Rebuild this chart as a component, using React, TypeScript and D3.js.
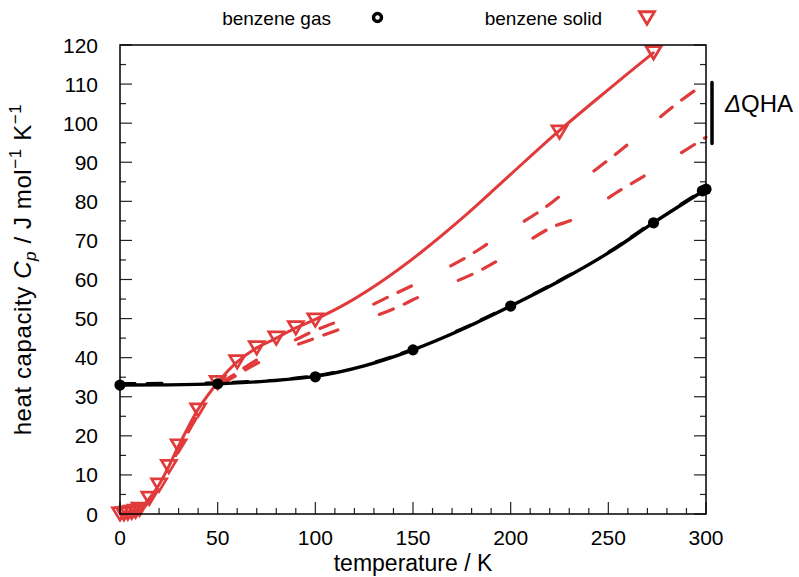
import React from "react";
import * as d3 from "d3";

// Benzene gas: line readings and marker points (T in K, Cp in J/mol/K)
const gasLineT = [0, 25, 50, 75, 100, 125, 150, 175, 200, 225, 250, 273, 300];
const gasLineCp = [33.0, 33.05, 33.3, 34.0, 35.2, 37.9, 42.0, 47.2, 53.2, 59.6, 66.8, 74.5, 83.1];
const gasDashCp = [33.4, 33.45, 33.6, 34.2, 35.4, 38.1, 42.2, 47.4, 53.4, 59.8, 67.0, 74.7, 83.3];
const gasMarkT = [0, 50, 100, 150, 200, 273.15, 298.15, 300];
const gasMarkCp = [33.0, 33.3, 35.1, 42.0, 53.2, 74.5, 82.7, 83.1];

// Benzene solid: full curve and markers
const solidLineT = [0, 5, 10, 15, 20, 25, 30, 40, 50, 60, 70, 80, 90, 100, 116, 135, 154, 178, 200, 224, 250, 273];
const solidLineCp = [0, 0.3, 1.2, 4.0, 7.5, 12.2, 17.4, 26.8, 33.6, 38.9, 42.5, 45.0, 47.6, 49.8, 53.9, 59.9, 66.9, 76.9, 86.9, 97.7, 108.6, 118.0];
const solidMarkT = [0, 2, 4, 6, 8, 10, 15, 20, 25, 30, 40, 50, 60, 70, 80, 90, 100, 225, 273.15];
const solidMarkCp = [0, 0.05, 0.2, 0.4, 0.7, 1.2, 4.0, 7.4, 12.1, 17.4, 26.6, 33.6, 38.9, 42.5, 45.0, 47.6, 49.6, 97.7, 118.0];

// Quasi-harmonic variants (dashed)
const qhaUpperT = [0, 10, 20, 30, 40, 50, 60, 70, 80, 90, 100, 112, 138, 151, 177, 190, 215, 226, 249, 261, 283, 300];
const qhaUpperCp = [0, 1.0, 7.0, 16.5, 25.5, 32.6, 36.2, 39.4, 42.1, 44.6, 47.0, 49.4, 55.7, 58.8, 65.6, 69.7, 77.5, 81.6, 90.2, 95.0, 104.2, 110.4];
const qhaLowerT = [0, 10, 20, 30, 40, 50, 60, 70, 80, 90, 100, 141, 155, 181, 194, 220, 233, 257, 270, 300];
const qhaLowerCp = [0, 1.0, 7.0, 16.5, 25.3, 32.2, 35.6, 38.5, 41.0, 43.2, 45.0, 52.7, 56.0, 61.5, 65.0, 73.1, 75.6, 83.1, 87.0, 96.4];

const qhaRange = [94.8, 110.4];

const xTicks = [0, 50, 100, 150, 200, 250, 300];
const yTicks = [0, 10, 20, 30, 40, 50, 60, 70, 80, 90, 100, 110, 120];

const RED = "#e13a3b";
const FONT = "'Liberation Sans', Arial, Helvetica, sans-serif";

export default function App() {
  const x = d3.scaleLinear().domain([0, 300]).range([120, 706]);
  const y = d3.scaleLinear().domain([0, 120]).range([514, 45]);

  const line = (ts: number[], vs: number[], curve: d3.CurveFactory = d3.curveCatmullRom) =>
    d3
      .line<number>()
      .x((_, i) => x(ts[i]))
      .y((_, i) => y(vs[i]))
      .curve(curve)(ts) as string;

  const tri = (cx: number, cy: number, w = 15, h = 12.5) =>
    `M${cx - w / 2},${cy - h / 2}L${cx + w / 2},${cy - h / 2}L${cx},${cy + h / 2}Z`;

  const xMinor = d3.range(0, 301, 10);
  const yMinor = d3.range(0, 121, 5);
  const [x0, x1] = x.range();
  const [y0, y1] = y.range();

  const dash = "15,12,15,44";

  return (
    <svg
      width={799}
      height={577}
      style={{ position: "absolute", left: 0, top: 0, background: "#fff" }}
      fontFamily={FONT}
    >
      <defs>
        <clipPath id="plotArea">
          <rect x={x0} y={y1 - 10} width={x1 - x0 + 10} height={y0 - y1 + 20} />
        </clipPath>
      </defs>

      {/* ticks on bottom axis */}
      {xMinor.map((t) => (
        <line
          key={"xt" + t}
          x1={x(t)}
          x2={x(t)}
          y1={y0}
          y2={y0 - (t % 50 === 0 ? 12 : 6)}
          stroke="#222"
          strokeWidth={1.2}
        />
      ))}
      {/* ticks on left and right axes */}
      {yMinor.map((v) => (
        <g key={"yt" + v}>
          <line x1={x0} x2={x0 + (v % 10 === 0 ? 12 : 6)} y1={y(v)} y2={y(v)} stroke="#222" strokeWidth={1.2} />
          <line x1={x1} x2={x1 - (v % 10 === 0 ? 12 : 6)} y1={y(v)} y2={y(v)} stroke="#222" strokeWidth={1.2} />
        </g>
      ))}

      {/* curves */}
      <g clipPath="url(#plotArea)" fill="none" strokeLinecap="round">
        <path d={line(qhaUpperT, qhaUpperCp)} stroke={RED} strokeWidth={3.2} strokeDasharray={dash} />
        <path d={line(qhaLowerT, qhaLowerCp)} stroke={RED} strokeWidth={3.2} strokeDasharray={dash} />
        <path d={line(solidLineT, solidLineCp)} stroke={RED} strokeWidth={3} />
        <path d={line(gasLineT, gasDashCp, d3.curveMonotoneX)} stroke="#000" strokeWidth={3} strokeDasharray={dash} />
        <path d={line(gasLineT, gasLineCp, d3.curveMonotoneX)} stroke="#000" strokeWidth={3.4} />
      </g>

      {/* markers */}
      {solidMarkT.map((t, i) => (
        <path key={"sm" + i} d={tri(x(t), y(solidMarkCp[i]))} fill="none" stroke={RED} strokeWidth={2.7} strokeLinejoin="miter" />
      ))}
      {gasMarkT.map((t, i) => (
        <circle key={"gm" + i} cx={x(t)} cy={y(gasMarkCp[i])} r={5.6} fill="#000" />
      ))}

      {/* frame */}
      <rect x={x0} y={y1} width={x1 - x0} height={y0 - y1} fill="none" stroke="#000" strokeWidth={1.5} />

      {/* tick labels */}
      {xTicks.map((t) => (
        <text key={"xl" + t} x={x(t)} y={y0 + 31} fontSize={21} textAnchor="middle" fill="#000">
          {t}
        </text>
      ))}
      {yTicks.map((v) => (
        <text key={"yl" + v} x={98} y={y(v) + 7.5} fontSize={21} textAnchor="end" fill="#000">
          {v}
        </text>
      ))}

      {/* axis titles */}
      <text x={(x0 + x1) / 2} y={571} fontSize={23} textAnchor="middle" fill="#000">
        temperature / K
      </text>
      <text transform={`translate(31,${(y0 + y1) / 2 - 10}) rotate(-90)`} fontSize={24} textAnchor="middle" fill="#000" letterSpacing={0.6}>
        heat capacity <tspan fontStyle="italic">C</tspan>
        <tspan fontStyle="italic" fontSize={17} dy={5}>p</tspan>
        <tspan dy={-5}> / J mol</tspan>
        <tspan fontSize={17} dy={-10}>−1</tspan>
        <tspan dy={10}> K</tspan>
        <tspan fontSize={17} dy={-10}>−1</tspan>
      </text>

      {/* ΔQHA annotation */}
      <line x1={712} x2={712} y1={y(qhaRange[0])} y2={y(qhaRange[1])} stroke="#000" strokeWidth={3.5} strokeLinecap="round" />
      <text x={725} y={112} fontSize={24} fill="#000">
        <tspan fontStyle="italic">Δ</tspan>QHA
      </text>

      {/* legend */}
      <text x={331} y={25} fontSize={19} textAnchor="end" fill="#000">
        benzene gas
      </text>
      <circle cx={377.5} cy={17.5} r={4} fill="#fff" stroke="#000" strokeWidth={3.4} />
      <text x={602} y={25} fontSize={19} textAnchor="end" fill="#000">
        benzene solid
      </text>
      <path d={tri(647, 18, 15, 12.5)} fill="none" stroke={RED} strokeWidth={2.8} />
    </svg>
  );
}
